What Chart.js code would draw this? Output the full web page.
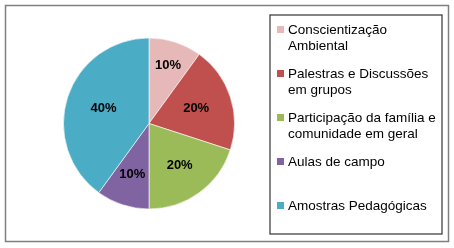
<!DOCTYPE html>
<html>
<head>
<meta charset="utf-8">
<script src="https://cdn.jsdelivr.net/npm/chart.js@4"></script>
<style>
  html, body { margin: 0; padding: 0; background: #fff; }
  #wrap { width: 454px; height: 248px; position: relative; }
</style>
</head>
<body>
<div id="wrap"><canvas id="pieChart" width="454" height="248"></canvas></div>
<script>
const categories = [
  ['Conscientização', 'Ambiental'],
  ['Palestras e Discussões', 'em grupos'],
  ['Participação da família e', 'comunidade em geral'],
  ['Aulas de campo'],
  ['Amostras Pedagógicas']
];
const values = [10, 20, 20, 10, 40];
const colors = ['#E6B9B8', '#C0504D', '#9BBB59', '#8064A2', '#4BACC6'];
// how far out each percentage label sits, as a share of the radius
const labelDist = [0.72, 0.58, 0.61, 0.63, 0.56];

const frame = {
  id: 'frame',
  beforeDraw(chart) {
    const c = chart.ctx;
    c.save();
    c.fillStyle = '#fff';
    c.fillRect(0, 0, chart.width, chart.height);
    c.restore();
  },
  afterDraw(chart) {
    const c = chart.ctx;
    c.save();
    // outer border
    c.strokeStyle = '#7f7f7f';
    c.lineWidth = 1.5;
    c.strokeRect(5.5, 5.5, 443, 236);
    // legend box
    c.strokeStyle = '#333';
    c.lineWidth = 1.2;
    c.strokeRect(270, 15, 172, 219);

    // legend entries
    const tops = [30, 74, 118, 162, 206];
    c.font = '13.5px "Liberation Sans", Arial, sans-serif';
    c.textBaseline = 'middle';
    categories.forEach((lines, i) => {
      c.fillStyle = colors[i];
      c.fillRect(277, tops[i] - 4, 7, 7);
      c.fillStyle = '#000';
      lines.forEach((t, j) => {
        c.fillText(t, 288, tops[i] + j * 16.5);
      });
    });

    // percentage labels
    const meta = chart.getDatasetMeta(0);
    const total = values.reduce((a, b) => a + b, 0);
    c.font = 'bold 13px "Liberation Sans", Arial, sans-serif';
    c.textAlign = 'center';
    meta.data.forEach((arc, i) => {
      const p = arc.getProps(['x', 'y', 'startAngle', 'endAngle', 'outerRadius'], true);
      const mid = (p.startAngle + p.endAngle) / 2;
      const r = p.outerRadius * labelDist[i];
      c.fillText(Math.round(values[i] / total * 100) + '%', p.x + Math.cos(mid) * r, p.y + Math.sin(mid) * r);
    });
    c.restore();
  }
};

new Chart(document.getElementById('pieChart').getContext('2d'), {
  type: 'pie',
  data: {
    labels: categories.map(l => l.join(' ')),
    datasets: [{
      data: values,
      backgroundColor: colors,
      borderColor: 'rgba(255,255,255,0.6)',
      borderWidth: 1
    }]
  },
  options: {
    responsive: false,
    animation: false,
    layout: { padding: { left: 63, right: 219, top: 37, bottom: 38 } },
    plugins: {
      legend: { display: false },
      tooltip: { enabled: false }
    }
  },
  plugins: [frame]
});
</script>
</body>
</html>
